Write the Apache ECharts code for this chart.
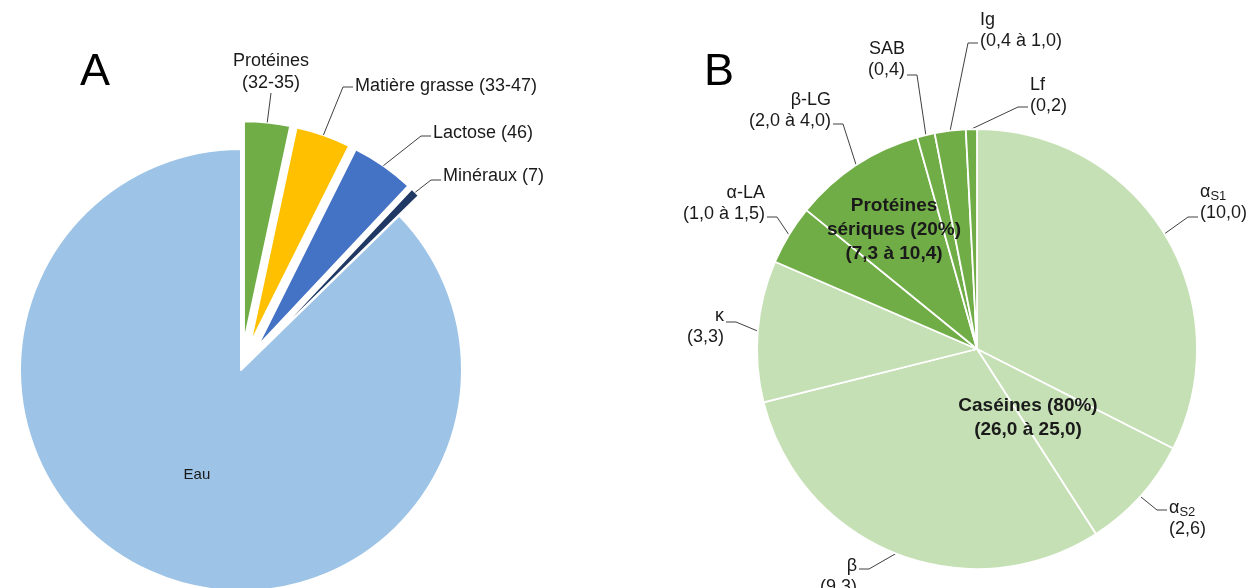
<!DOCTYPE html>
<html><head><meta charset="utf-8">
<script src="https://cdn.jsdelivr.net/npm/echarts@6/dist/echarts.min.js"></script>
<style>html,body{margin:0;padding:0;background:#fff}#c{width:1257px;height:588px}</style>
</head><body><div id="c"></div>
<script>
// ---- Panel A : composition du lait (g/L)
const milkNames  = ['Protéines', 'Matière grasse', 'Lactose', 'Minéraux', 'Eau'];
const milkRanges = ['(32-35)', '(33-47)', '(46)', '(7)', ''];
const milkValues = [33.5, 40, 46, 7, 870];
const milkColors = ['#70ad47', '#ffc000', '#4472c4', '#203864', '#9dc3e6'];

// ---- Panel B : protéines du lait (g/L)
const protNames  = ['αS1', 'αS2', 'β', 'κ', 'α-LA', 'β-LG', 'SAB', 'Ig', 'Lf'];
const protRanges = ['(10,0)', '(2,6)', '(9,3)', '(3,3)', '(1,0 à 1,5)', '(2,0 à 4,0)', '(0,4)', '(0,4 à 1,0)', '(0,2)'];
const protValues = [10.0, 2.6, 9.3, 3.2, 1.35, 3.0, 0.4, 0.7, 0.25];
const protGroup  = [0, 0, 0, 0, 1, 1, 1, 1, 1];

const groupNames  = ['Caséines', 'Protéines\nsériques'];
const groupShares = ['(80%)', '(20%)'];
const groupRanges = ['(26,0 à 25,0)', '(7,3 à 10,4)'];
const groupColors = ['#c5e0b4', '#70ad47'];

const FONT = "'Liberation Sans', Arial, sans-serif";
const TXT = '#1a1a1a';
const LINE = '#404040';

// label placement (layout only): [text x, block centre y, align, y where the leader meets the text]
const milkLabelPos = [[271, 72, 'center', 93], [355, 86, 'left', 87], [433, 133, 'left', 136], [443, 176, 'left', 180], null];
const protLabelPos = [[1200, 203, 'left', 217], [1169, 519, 'left', 510], [857, 577, 'right', 569], [724, 327, 'right', 322],
                      [765, 204, 'right', 217], [831, 111, 'right', 124], [905, 60, 'right', 75], [980, 31, 'left', 43], [1030, 96, 'left', 107]];
const groupLabelPos = [[1028, 418], [894, 230]];

const groupSums = groupNames.map((g, gi) =>
  protValues.reduce((s, v, i) => s + (protGroup[i] === gi ? v : 0), 0));

function subName(n) {
  const m = n.match(/^α(S\d)$/);
  return m ? '{t|α}{s|' + m[1] + '}' : n;
}

function leaderLayout(posArr) {
  return function (p) {
    const L = posArr[p.dataIndex];
    if (!L) return {};
    const x = L[0], yc = L[1], align = L[2], ay = L[3];
    const start = p.labelLinePoints ? p.labelLinePoints[0] : null;
    let end, elbow;
    if (align === 'left') { end = [x - 2, ay]; elbow = [x - 12, ay]; }
    else if (align === 'right') { end = [x + 2, ay]; elbow = [x + 12, ay]; }
    else { end = [x, ay]; elbow = [x, ay]; }
    const out = {x: x, y: yc, align: align, verticalAlign: 'middle'};
    if (start) out.labelLinePoints = [start, elbow, end];
    return out;
  };
}

const chart = echarts.init(document.getElementById('c'), null, {renderer: 'canvas'});
chart.setOption({
  animation: false,
  backgroundColor: '#fff',
  textStyle: {fontFamily: FONT},
  title: [
    {text: 'A', left: 80, top: 50, padding: 0, textStyle: {fontSize: 45, fontWeight: 'normal', color: '#000', fontFamily: FONT}},
    {text: 'B', left: 704, top: 50, padding: 0, textStyle: {fontSize: 45, fontWeight: 'normal', color: '#000', fontFamily: FONT}}
  ],
  series: [
    // A: exploded pie (slices)
    {
      type: 'pie',
      center: [241, 370],
      radius: 221,
      startAngle: 90,
      clockwise: true,
      selectedMode: 'multiple',
      selectedOffset: 28,
      avoidLabelOverlap: false,
      silent: true,
      itemStyle: {borderColor: '#fff', borderWidth: 2},
      label: {show: false},
      labelLine: {show: false},
      data: milkNames.map((n, i) => ({
        name: n,
        value: milkValues[i],
        selected: i < 4,
        itemStyle: {color: milkColors[i]},
        label: i < 4 ? {show: false}
          : {show: true, position: 'inside', formatter: n, fontSize: 15, color: TXT, fontFamily: FONT}
      }))
    },
    // A: transparent ring at the exploded radius, carrying the outer labels
    {
      type: 'pie',
      center: [241, 370],
      radius: 221 + 28,
      startAngle: 90,
      clockwise: true,
      avoidLabelOverlap: false,
      silent: true,
      z: 4,
      itemStyle: {color: 'rgba(0,0,0,0)', borderWidth: 0},
      label: {position: 'outside', color: TXT, fontSize: 18, lineHeight: 22, fontFamily: FONT},
      labelLine: {show: true, lineStyle: {color: LINE, width: 1}, length: 10, length2: 10},
      labelLayout: leaderLayout(milkLabelPos),
      data: milkNames.map((n, i) => ({
        name: n,
        value: milkValues[i],
        label: i < 4
          ? {show: true, formatter: i === 0 ? n + '\n' + milkRanges[i] : n + ' ' + milkRanges[i]}
          : {show: false},
        labelLine: {show: i < 4}
      }))
    },
    // B: protein pie
    {
      type: 'pie',
      center: [977, 349],
      radius: 220,
      startAngle: 90,
      clockwise: true,
      avoidLabelOverlap: false,
      silent: true,
      itemStyle: {borderColor: '#fff', borderWidth: 1.8},
      label: {
        position: 'outside', color: TXT, fontSize: 18, lineHeight: 21, fontFamily: FONT,
        formatter: p => subName(protNames[p.dataIndex]) + '\n' + protRanges[p.dataIndex],
        rich: {
          t: {fontSize: 18, lineHeight: 21, color: TXT, fontFamily: FONT},
          s: {fontSize: 13, lineHeight: 15, verticalAlign: 'bottom', color: TXT, fontFamily: FONT}
        }
      },
      labelLine: {show: true, lineStyle: {color: LINE, width: 1}, length: 10, length2: 10},
      labelLayout: leaderLayout(protLabelPos),
      data: protNames.map((n, i) => ({
        name: n, value: protValues[i], itemStyle: {color: groupColors[protGroup[i]]}
      }))
    },
    // B: group labels (caséines / protéines sériques)
    {
      type: 'pie',
      center: [977, 349],
      radius: 220,
      startAngle: 90,
      clockwise: true,
      silent: true,
      z: 5,
      itemStyle: {color: 'rgba(0,0,0,0)', borderWidth: 0},
      label: {
        position: 'inside', color: TXT, fontSize: 19, fontWeight: 'bold', lineHeight: 24, fontFamily: FONT,
        formatter: p => groupNames[p.dataIndex] + ' ' + groupShares[p.dataIndex] + '\n' + groupRanges[p.dataIndex]
      },
      labelLine: {show: false},
      labelLayout: function (p) {
        const pos = groupLabelPos[p.dataIndex];
        return {x: pos[0], y: pos[1], align: 'center', verticalAlign: 'middle'};
      },
      data: groupNames.map((n, i) => ({name: n, value: groupSums[i]}))
    }
  ]
});
</script>
</body></html>
